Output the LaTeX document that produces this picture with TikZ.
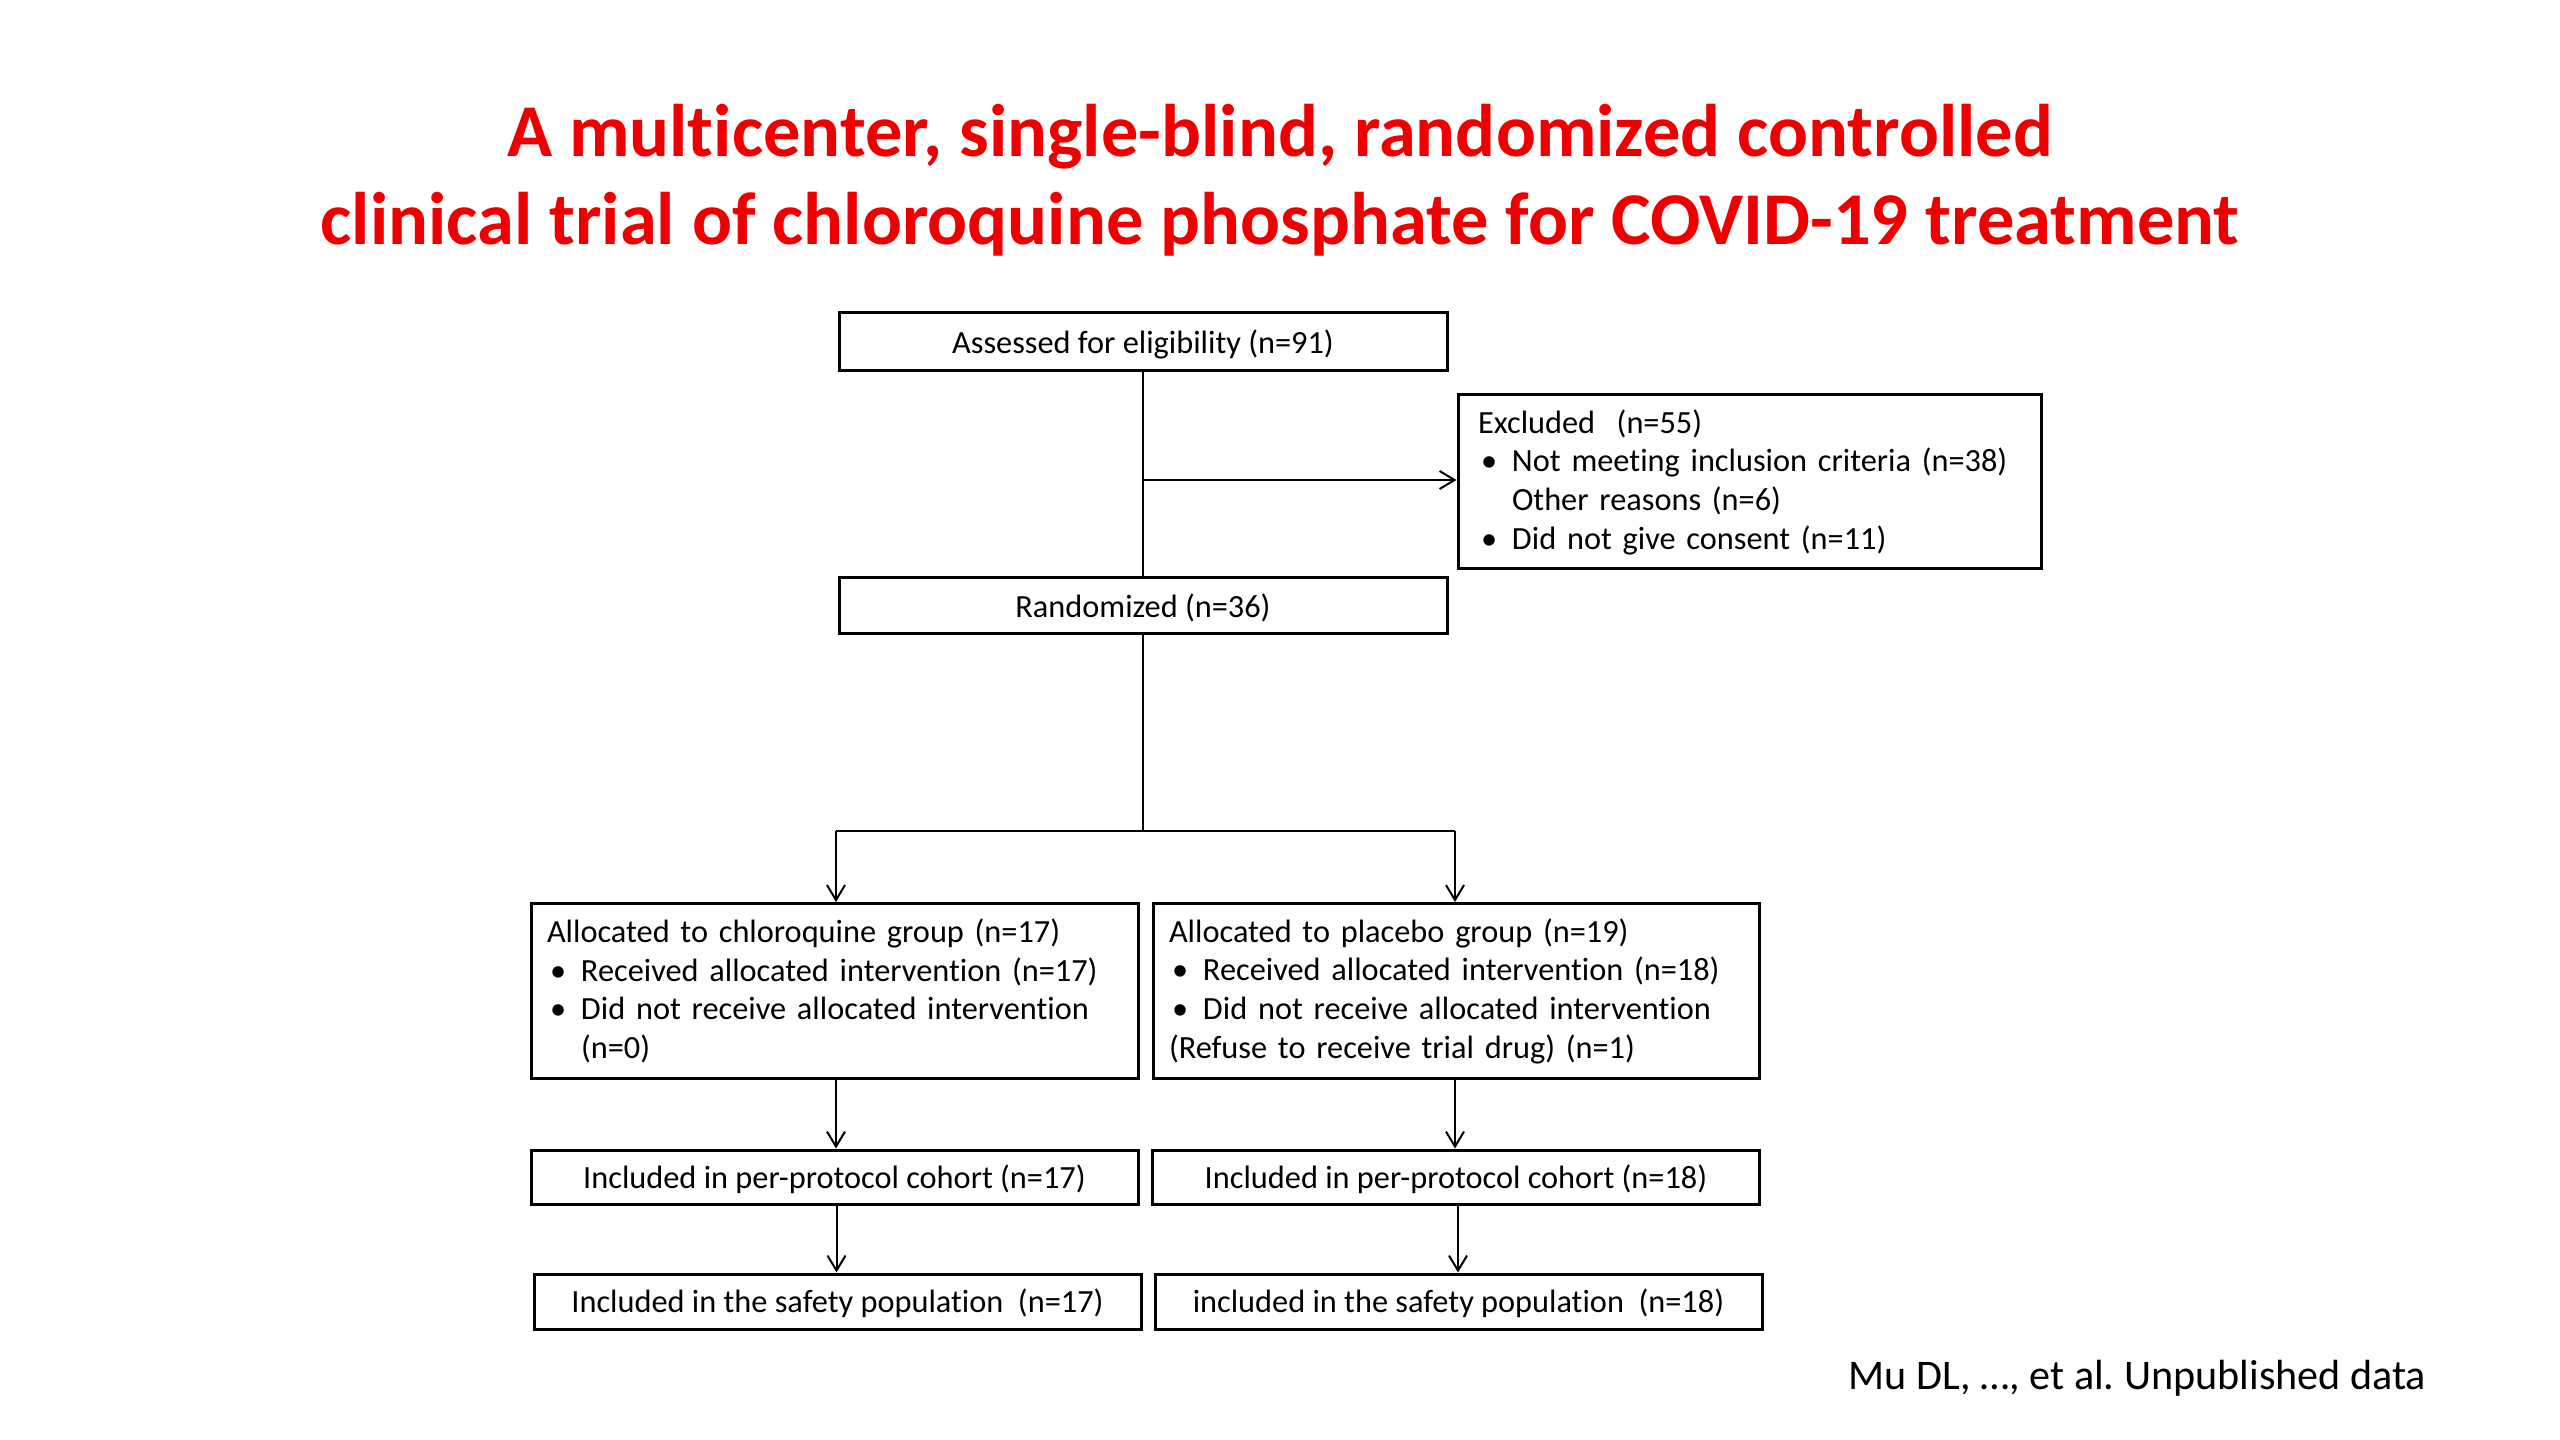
\documentclass[tikz,border=0pt]{standalone}
\usepackage{fontspec}
\setmainfont{Carlito}[Ligatures=CommonOff]
\usetikzlibrary{arrows.meta}
\definecolor{titlered}{RGB}{238,0,0}
\newcommand{\bul}{\makebox[3.4mm][l]{\hspace{0.3mm}•}}
\newcommand{\ind}{\hspace*{3.4mm}}
\begin{document}
\begin{tikzpicture}[x=0.1mm,y=-0.1mm,
  box/.style={draw=black, line width=0.3mm, inner sep=0pt, font=\fontsize{9.2}{11}\selectfont},
  onebox/.style={box, minimum width=60.7mm, minimum height=5.5mm, text height=2.6mm, text depth=0.35mm},
  multibox/.style={box, align=left, minimum height=17.5mm},
  conn/.style={line width=0.2mm},
  arr/.style={conn, -{Straight Barb[length=1.5mm,width=1.8mm]}},
  titletext/.style={font=\fontsize{21.2}{25}\selectfont\bfseries, text=titlered, anchor=base}]
\useasboundingbox (0,0) rectangle (2560,1440);

\node[titletext] (title1) at (1280,157) {A multicenter, single-blind, randomized controlled};
\node[titletext] (title2) at (1280,245) {clinical trial of chloroquine phosphate for COVID-19 treatment};

\node[onebox, minimum width=60.8mm, minimum height=5.8mm] (assess) at (1143,342) {Assessed for eligibility (n=91)};
\node[multibox, minimum height=17.4mm, text width=54.3mm, inner xsep=2mm] (excl) at (1749.5,482)
  {Excluded\ \ (n=55)\\
   \bul Not meeting inclusion criteria (n=38)\\
   \ind Other reasons (n=6)\\
   \bul Did not give consent (n=11)};
\node[onebox, minimum width=60.8mm, minimum height=5.6mm] (rand) at (1143,606) {Randomized (n=36)};

\node[multibox, text width=57.5mm, inner xsep=1.6mm] (allocL) at (834.5,991)
  {Allocated to chloroquine group (n=17)\\
   \bul Received allocated intervention (n=17)\\
   \bul Did not receive allocated intervention\\
   \ind (n=0)};
\node[multibox, text width=57.4mm, inner xsep=1.6mm] (allocR) at (1456,991)
  {Allocated to placebo group (n=19)\\
   \bul Received allocated intervention (n=18)\\
   \bul Did not receive allocated intervention\\
   (Refuse to receive trial drug) (n=1)};

\node[onebox] (ppL) at (834.5,1177.5) {Included in per-protocol cohort (n=17)};
\node[onebox] (ppR) at (1456,1177.5) {Included in per-protocol cohort (n=18)};
\node[onebox] (safeL) at (837.5,1301.5) {Included in the safety population\ \ (n=17)};
\node[onebox] (safeR) at (1458.5,1301.5) {included in the safety population\ \ (n=18)};

\node[anchor=base east, font=\fontsize{12}{15}\selectfont, inner sep=0pt] (cite) at (2427,1389) {Mu DL, …, et al.\ Unpublished data};

\coordinate (exclsplit) at (1143,480);
\coordinate (split) at (1143,831);
\coordinate (splitL) at (836,831);
\coordinate (splitR) at (1455,831);

\draw[conn] (assess.south) -- (rand.north);
\draw[arr] (exclsplit) -- (excl.west |- exclsplit);
\draw[conn] (rand.south) -- (split);
\draw[conn] (splitL) -- (splitR);
\draw[arr] (splitL) -- (splitL |- allocL.north);
\draw[arr] (splitR) -- (splitR |- allocR.north);
\draw[arr] (splitL |- allocL.south) -- (splitL |- ppL.north);
\draw[arr] (splitR |- allocR.south) -- (splitR |- ppR.north);
\draw[arr] ([xshift=0.2mm]ppL.south) -- ([xshift=0.2mm]ppL.south |- safeL.north);
\draw[arr] ([xshift=0.2mm]ppR.south) -- ([xshift=0.2mm]ppR.south |- safeR.north);
\end{tikzpicture}
\end{document}
